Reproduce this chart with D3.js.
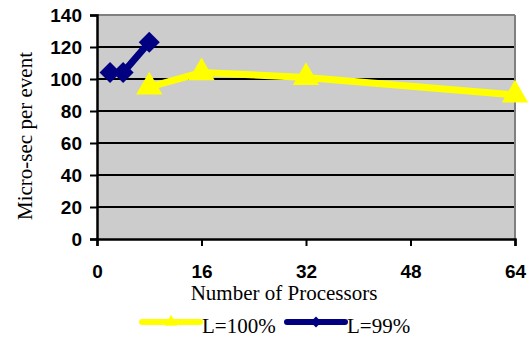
<!DOCTYPE html>
<html><head><meta charset="utf-8">
<script src="https://cdn.jsdelivr.net/npm/d3@7"></script>
<style>body{margin:0;background:#fff}svg{display:block}</style>
</head><body>
<script>
const xTicks = [0, 16, 32, 48, 64];
const yTicks = [0, 20, 40, 60, 80, 100, 120, 140];
const seriesNames = ["L=100%", "L=99%"];
const l100X = [8, 16, 32, 64];
const l100Y = [95, 104, 101, 90];
const l99X = [2, 4, 8];
const l99Y = [104, 104, 123];

const SERIF = '"Liberation Serif"';
const SANS = '"Liberation Sans"';
const W = 531, H = 337;
const m = {left: 97, right: 16, top: 15, bottom: 98};
const svg = d3.select("body").append("svg").attr("width", W).attr("height", H);
const x = d3.scaleLinear().domain([0, 64]).range([m.left, W - m.right]);
const y = d3.scaleLinear().domain([0, 140]).range([H - m.bottom, m.top]);

svg.append("rect").attr("x", x(0)).attr("y", y(140)).attr("width", x(64) - x(0)).attr("height", y(0) - y(140)).attr("fill", "#cccccc");
// grid
svg.append("g").selectAll("line").data(yTicks.filter(d => d > 0 && d < 140)).join("line")
  .attr("x1", x(0)).attr("x2", x(64)).attr("y1", d => y(d)).attr("y2", d => y(d))
  .attr("stroke", "#000").attr("stroke-width", 2);
// top & right border
svg.append("line").attr("x1", x(0)).attr("x2", x(64)).attr("y1", y(140)).attr("y2", y(140)).attr("stroke", "#808080").attr("stroke-width", 2);
svg.append("line").attr("x1", x(64)).attr("x2", x(64)).attr("y1", y(140)).attr("y2", y(0)).attr("stroke", "#808080").attr("stroke-width", 2);

const yAxis = svg.append("g").attr("transform", `translate(${x(0)},0)`)
  .call(d3.axisLeft(y).tickValues(yTicks).tickSize(7).tickPadding(8).tickFormat(d3.format("d")));
const xAxis = svg.append("g").attr("transform", `translate(0,${y(0)})`)
  .call(d3.axisBottom(x).tickValues(xTicks).tickSize(7).tickPadding(19).tickFormat(d3.format("d")));
[yAxis, xAxis].forEach(g => {
  g.select(".domain").attr("stroke", "#000").attr("stroke-width", 2.5);
  g.selectAll(".tick line").attr("stroke", "#000").attr("stroke-width", 2);
  g.selectAll(".tick text").style("font-family", SANS).style("font-weight", "bold").style("font-size", "19px").attr("fill", "#000");
});

svg.append("text").attr("transform", `translate(32,${(y(0) + y(140)) / 2 + 9}) rotate(-90)`)
  .style("font-family", SERIF).style("font-size", "21px")
  .attr("text-anchor", "middle").text("Micro-sec per event");
svg.append("text").attr("x", 284).attr("y", 300)
  .style("font-family", SERIF).style("font-size", "21px")
  .attr("text-anchor", "middle").text("Number of Processors");

const line = d3.line().x(d => x(d[0])).y(d => y(d[1]));
const d100 = l100X.map((v, i) => [v, l100Y[i]]);
const d99 = l99X.map((v, i) => [v, l99Y[i]]);
const tri = d3.symbol().type(d3.symbolTriangle).size(300);
const dia = d3.symbol().type(d3.symbolSquare).size(220);

svg.append("path").datum(d100).attr("d", line).attr("fill", "none").attr("stroke", "#ffff00").attr("stroke-width", 7);
svg.append("g").selectAll("path").data(d100).join("path").attr("d", tri)
  .attr("transform", d => `translate(${x(d[0])},${y(d[1])})`).attr("fill", "#ffff00");
svg.append("path").datum(d99).attr("d", line).attr("fill", "none").attr("stroke", "#000080").attr("stroke-width", 7);
svg.append("g").selectAll("path").data(d99).join("path").attr("d", dia)
  .attr("transform", d => `translate(${x(d[0])},${y(d[1])}) rotate(45)`).attr("fill", "#000080");

// legend
const leg = [{name: seriesNames[0], c: "#ffff00", sym: d3.symbol().type(d3.symbolTriangle).size(70), rot: 0, x0: 142},
             {name: seriesNames[1], c: "#000080", sym: d3.symbol().type(d3.symbolSquare).size(60), rot: 45, x0: 287}];
const ly = 322;
leg.forEach(l => {
  svg.append("line").attr("x1", l.x0).attr("x2", l.x0 + 58).attr("y1", ly).attr("y2", ly).attr("stroke", l.c).attr("stroke-width", 6).attr("stroke-linecap", "round");
  svg.append("path").attr("d", l.sym).attr("transform", `translate(${l.x0 + 29},${ly}) rotate(${l.rot})`).attr("fill", l.c);
  svg.append("text").attr("x", l.x0 + 60).attr("y", ly + 11)
    .style("font-family", SERIF).style("font-size", "21px").text(l.name);
});
</script>
</body></html>
